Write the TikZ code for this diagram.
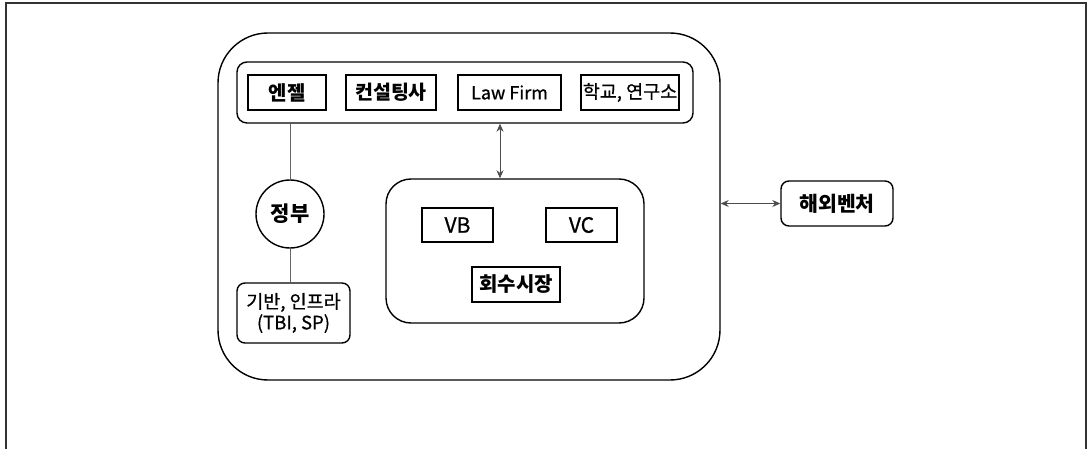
\documentclass[tikz,border=0pt]{standalone}
\usepackage{fontspec}
\setmainfont{Noto Sans CJK KR}
\newfontfamily\medfont{Noto Sans CJK KR}[FakeBold=0.7]
\usetikzlibrary{arrows.meta}

\begin{document}
\begin{tikzpicture}[x=1pt,y=-1pt,
    font=\fontsize{18}{22}\selectfont\medfont,
    box/.style={draw,line width=1.4pt,inner sep=0pt,minimum height=35pt},
    rbox/.style={draw,line width=1.4pt,inner sep=0pt,rounded corners=8pt},
    heavy/.style={font=\fontsize{#1}{22}\selectfont\bfseries},
    link/.style={draw=black!60,line width=0.9pt},
    both/.style={{Stealth[length=8pt,width=7pt]}-{Stealth[length=8pt,width=7pt]},line width=0.9pt,draw=black!70}]
  \useasboundingbox (0,0) rectangle (1087,449);
  % frame
  \draw[line width=1.6pt,black!80] (6,449) -- (6,3) -- (1086,3) -- (1086,449);
  % big container
  \node[rbox,rounded corners=50pt,minimum width=502pt,minimum height=347pt] (outer) at (469,206.5) {};
  % top row
  \node[rbox,rounded corners=10pt,minimum width=456pt,minimum height=61pt] (support) at (465,92.5) {};
  \node[box,minimum width=78pt,heavy=20] (angel) at (287,92.5) {엔젤};
  \node[box,minimum width=90pt,heavy=19.5] (consult) at (391,92.5) {컨설팅사};
  \node[box,minimum width=103pt] (law) at (509.5,92.5) {Law Firm};
  \node[box,minimum width=98pt,font=\fontsize{18.5}{22}\selectfont\medfont] (school) at (630,92.5) {학교, 연구소};
  % government
  \node[draw,circle,line width=1.4pt,minimum size=68pt,inner sep=0pt,heavy=21] (gov) at (290,214) {정부};
  \node[rbox,minimum width=113pt,minimum height=60pt,align=center,font=\fontsize{18.5}{21}\selectfont\medfont] (infra) at (293.5,313) {기반, 인프라\\(TBI, SP)};
  % market
  \node[rbox,rounded corners=25pt,minimum width=258pt,minimum height=144pt] (market) at (515,251) {};
  \node[box,minimum width=71pt,minimum height=34pt,font=\fontsize{21}{22}\selectfont\medfont] (vb) at (457.5,225) {VB};
  \node[box,minimum width=71pt,minimum height=34pt,font=\fontsize{21}{22}\selectfont\medfont] (vc) at (581.5,225) {VC};
  \node[box,minimum width=88pt,heavy=20] (exit) at (516,284.5) {회수시장};
  % overseas
  \node[rbox,minimum width=112pt,minimum height=45pt,heavy=20.5] (oversea) at (837,203.5) {해외벤처};
  % connectors
  \draw[link] (gov.north |- support.south) -- (gov.north);
  \draw[link] (gov.south) -- (gov.south |- infra.north);
  \draw[both] ([xshift=-15pt]market.north |- support.south) -- ([xshift=-15pt]market.north);
  \draw[both] (oversea.west -| outer.east) -- (oversea.west);
\end{tikzpicture}
\end{document}
